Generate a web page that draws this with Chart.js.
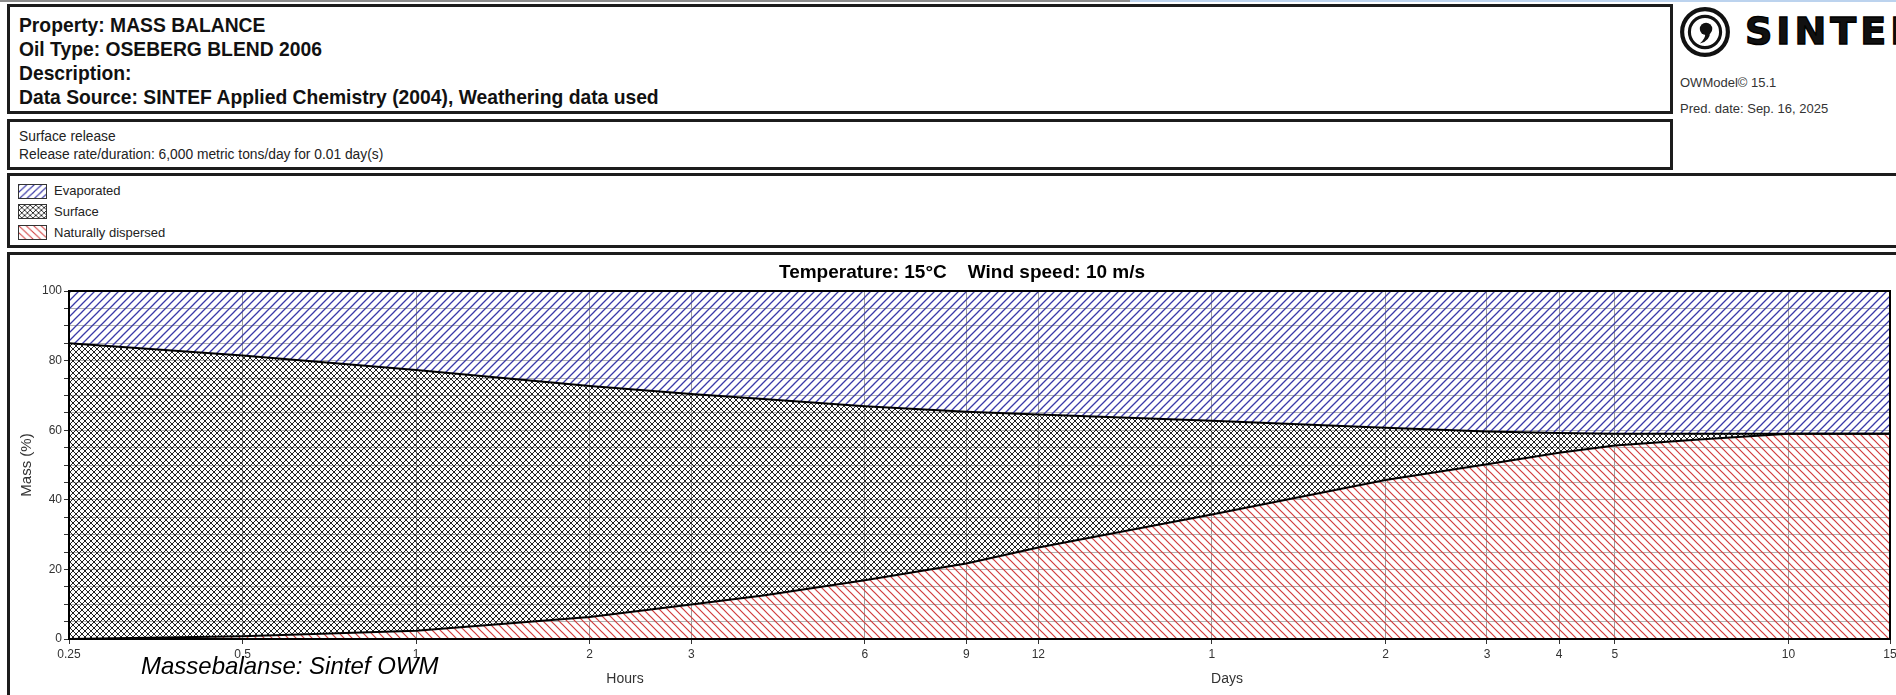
<!DOCTYPE html>
<html>
<head>
<meta charset="utf-8">
<script src="https://cdn.jsdelivr.net/npm/chart.js@4.4.1/dist/chart.umd.min.js"></script>
<style>
  html, body { margin: 0; padding: 0; background: #fff; }
  body { width: 1896px; height: 695px; position: relative; overflow: hidden; font-family: "Liberation Sans", Arial, sans-serif; color: #111; }
  .abs { position: absolute; }
  .box { position: absolute; box-sizing: border-box; border: 3px solid #1c1c1c; background: #fff; }
  .head { font-weight: bold; font-size: 19.3px; line-height: 24px; white-space: nowrap; }
  .small { font-size: 13.8px; line-height: 18px; white-space: nowrap; color: #222; }
  .leg { font-size: 13px; line-height: 16px; white-space: nowrap; color: #222; }
  .meta { font-size: 13px; line-height: 18px; white-space: nowrap; color: #333; }
  .sw { position: absolute; box-sizing: border-box; border: 1px solid #333; }
</style>
</head>
<body>
<div class="abs" style="left:0;top:0;width:1130px;height:2px;background:#8c8c8c"></div>
<div class="abs" style="left:1130px;top:0;width:766px;height:2px;background:#bcd3ee"></div>

<div class="box" style="left:7px;top:4px;width:1666px;height:110px;padding:7px 0 0 9px">
  <div class="head">Property: MASS BALANCE</div>
  <div class="head">Oil Type: OSEBERG BLEND 2006</div>
  <div class="head">Description:</div>
  <div class="head">Data Source: SINTEF Applied Chemistry (2004), Weathering data used</div>
</div>
<div class="box" style="left:7px;top:119px;width:1666px;height:51px;padding:6px 0 0 9px">
  <div class="small">Surface release</div>
  <div class="small">Release rate/duration: 6,000 metric tons/day for 0.01 day(s)</div>
</div>

<svg class="abs" style="left:1679px;top:6px" width="52" height="52" viewBox="0 0 50 50">
  <circle cx="25" cy="25" r="22" fill="none" stroke="#111" stroke-width="4"/>
  <circle cx="25" cy="25" r="15" fill="none" stroke="#111" stroke-width="3"/>
  <circle cx="26" cy="22" r="6" fill="#111"/>
  <path d="M30 24 Q30 34 20 36 Q26 31 25 26 Z" fill="#111"/>
</svg>
<div class="abs" style="left:1745px;top:12px;font-family:'DejaVu Sans';font-weight:bold;font-size:38px;line-height:38px;letter-spacing:4px;-webkit-text-stroke:1.4px #000;white-space:nowrap">SINTEF</div>
<div class="abs meta" style="left:1680px;top:74px">OWModel© 15.1</div>
<div class="abs meta" style="left:1680px;top:100px">Pred. date: Sep. 16, 2025</div>

<div class="box" style="left:7px;top:173px;width:1900px;height:75px"></div>
<canvas id="swEvap" class="sw" width="29" height="15" style="left:18px;top:184px;width:29px;height:15px"></canvas>
<canvas id="swSurf" class="sw" width="29" height="15" style="left:18px;top:204px;width:29px;height:15px"></canvas>
<canvas id="swDisp" class="sw" width="29" height="15" style="left:18px;top:225px;width:29px;height:15px"></canvas>
<div class="abs leg" style="left:54px;top:183px">Evaporated</div>
<div class="abs leg" style="left:54px;top:204px">Surface</div>
<div class="abs leg" style="left:54px;top:225px">Naturally dispersed</div>

<div class="box" style="left:7px;top:252px;width:1900px;height:460px"></div>
<canvas id="massChart" class="abs" width="1886" height="439" style="left:10px;top:256px"></canvas>
<div class="abs" style="left:141px;top:652px;font-style:italic;font-size:24px;line-height:28px;white-space:nowrap;color:#000">Massebalanse: Sintef OWM</div>

<script>
// time in hours (log axis)
const hours = [0.25, 0.5, 1, 2, 3, 4, 6, 9, 12, 24, 48, 72, 96, 120, 168, 240, 360];
// mass %, stacked bottom -> top
const dispersed = [0, 0.8, 2.4, 6.3, 9.9, 12.5, 16.9, 21.7, 26.3, 35.8, 45.7, 50.2, 53.5, 55.6, 57.3, 59.0, 59.0];
const surface = [85.0, 80.7, 74.9, 66.4, 60.5, 56.5, 50.0, 43.6, 38.2, 26.9, 15.0, 9.4, 5.7, 3.4, 1.7, 0, 0];
const evaporated = [15.0, 18.5, 22.7, 27.3, 29.6, 31.0, 33.1, 34.7, 35.5, 37.3, 39.3, 40.4, 40.8, 41.0, 41.0, 41.0, 41.0];

const xTicks = [0.25, 0.5, 1, 2, 3, 6, 9, 12, 24, 48, 72, 96, 120, 240, 360];
const xTickLabels = ['0.25', '0.5', '1', '2', '3', '6', '9', '12', '1', '2', '3', '4', '5', '10', '15'];

// -----------------------------
// Hatch patterns
// -----------------------------
function makeHatch(size, color, dirs, lw) {
    const c = document.createElement('canvas');
    c.width = size;
    c.height = size;
    const g = c.getContext('2d');
    g.strokeStyle = color;
    g.lineWidth = lw;
    g.beginPath();
    if (dirs.includes('/')) {
        g.moveTo(-1, size + 1); g.lineTo(size + 1, -1);
        g.moveTo(-1, 1); g.lineTo(1, -1);
        g.moveTo(size - 1, size + 1); g.lineTo(size + 1, size - 1);
    }
    if (dirs.includes('\\')) {
        g.moveTo(-1, -1); g.lineTo(size + 1, size + 1);
        g.moveTo(size - 1, -1); g.lineTo(size + 1, 1);
        g.moveTo(-1, size - 1); g.lineTo(1, size + 1);
    }
    g.stroke();
    return g.createPattern(c, 'repeat');
}

const evapPattern = makeHatch(8, '#3a3aa8', '/', 1.3);
const surfPattern = makeHatch(6, '#222222', '/\\', 1);
const dispPattern = makeHatch(8, '#d03c3c', '\\', 1.2);

[['swEvap', evapPattern], ['swSurf', surfPattern], ['swDisp', dispPattern]].forEach(([id, p]) => {
    const g = document.getElementById(id).getContext('2d');
    g.fillStyle = p;
    g.fillRect(0, 0, 29, 15);
});

const toPts = arr => hours.map((h, i) => ({x: h, y: arr[i]}));

// -----------------------------
// Frame + extra texts
// -----------------------------
const extras = {
    id: 'extras',
    afterDatasetsDraw(chart) {
        const {ctx, chartArea: a} = chart;
        ctx.save();
        ctx.strokeStyle = '#000';
        ctx.lineWidth = 2;
        ctx.strokeRect(a.left, a.top, a.right - a.left, a.bottom - a.top);
        ctx.restore();
    },
    afterDraw(chart) {
        const {ctx, chartArea: a} = chart;
        ctx.save();
        ctx.fillStyle = '#000';
        ctx.textAlign = 'center';
        ctx.textBaseline = 'middle';
        ctx.font = 'bold 19px "Liberation Sans", Arial, sans-serif';
        ctx.fillText('Temperature: 15°C    Wind speed: 10 m/s', a.left + 893, 17);
        ctx.fillStyle = '#333';
        ctx.font = '14px "Liberation Sans", Arial, sans-serif';
        ctx.fillText('Hours', a.left + 556, a.bottom + 40);
        ctx.fillText('Days', a.left + 1158, a.bottom + 40);
        ctx.restore();
    }
};

new Chart(document.getElementById('massChart'), {
    type: 'line',
    data: {
        datasets: [
            {
                label: 'Naturally dispersed',
                data: toPts(dispersed),
                backgroundColor: dispPattern,
                borderColor: '#000',
                borderWidth: 2,
                pointRadius: 0,
                fill: 'origin'
            },
            {
                label: 'Surface',
                data: toPts(surface),
                backgroundColor: surfPattern,
                borderColor: '#000',
                borderWidth: 2,
                pointRadius: 0,
                fill: '-1'
            },
            {
                label: 'Evaporated',
                data: toPts(evaporated),
                backgroundColor: evapPattern,
                borderColor: '#000',
                borderWidth: 2,
                pointRadius: 0,
                fill: '-1'
            }
        ]
    },
    options: {
        responsive: false,
        animation: false,
        layout: {padding: {left: 0, top: 35, right: 6, bottom: 0}},
        plugins: {
            legend: {display: false},
            tooltip: {enabled: false},
            title: {display: false}
        },
        scales: {
            x: {
                type: 'logarithmic',
                min: 0.25,
                max: 360,
                afterBuildTicks: scale => {
                    scale.ticks = xTicks.map(v => ({value: v}));
                },
                afterFit: scale => {
                    scale.height = 56;
                    scale.paddingLeft = 0;
                    scale.paddingRight = 0;
                },
                ticks: {
                    autoSkip: false,
                    maxRotation: 0,
                    padding: 3,
                    color: '#333',
                    font: {family: '"Liberation Sans", Arial, sans-serif', size: 12},
                    callback: (v, i) => xTickLabels[i]
                },
                grid: {color: '#9a9a9a', lineWidth: 1, tickLength: 5, tickColor: '#333'},
                border: {color: '#000', width: 2}
            },
            y: {
                stacked: true,
                min: 0,
                max: 100,
                afterFit: scale => {
                    scale.width = 59;
                },
                ticks: {
                    stepSize: 5,
                    autoSkip: false,
                    padding: 2,
                    color: '#333',
                    font: {family: '"Liberation Sans", Arial, sans-serif', size: 12},
                    callback: v => (v % 20 === 0 ? v : '')
                },
                title: {
                    display: true,
                    text: 'Mass (%)',
                    color: '#333',
                    padding: {top: 8, bottom: 0},
                    font: {family: '"Liberation Sans", Arial, sans-serif', size: 15}
                },
                grid: {color: '#b0b0b0', lineWidth: 1, tickLength: 5, tickColor: '#333'},
                border: {color: '#000', width: 2}
            }
        }
    },
    plugins: [extras]
});
</script>
</body>
</html>
